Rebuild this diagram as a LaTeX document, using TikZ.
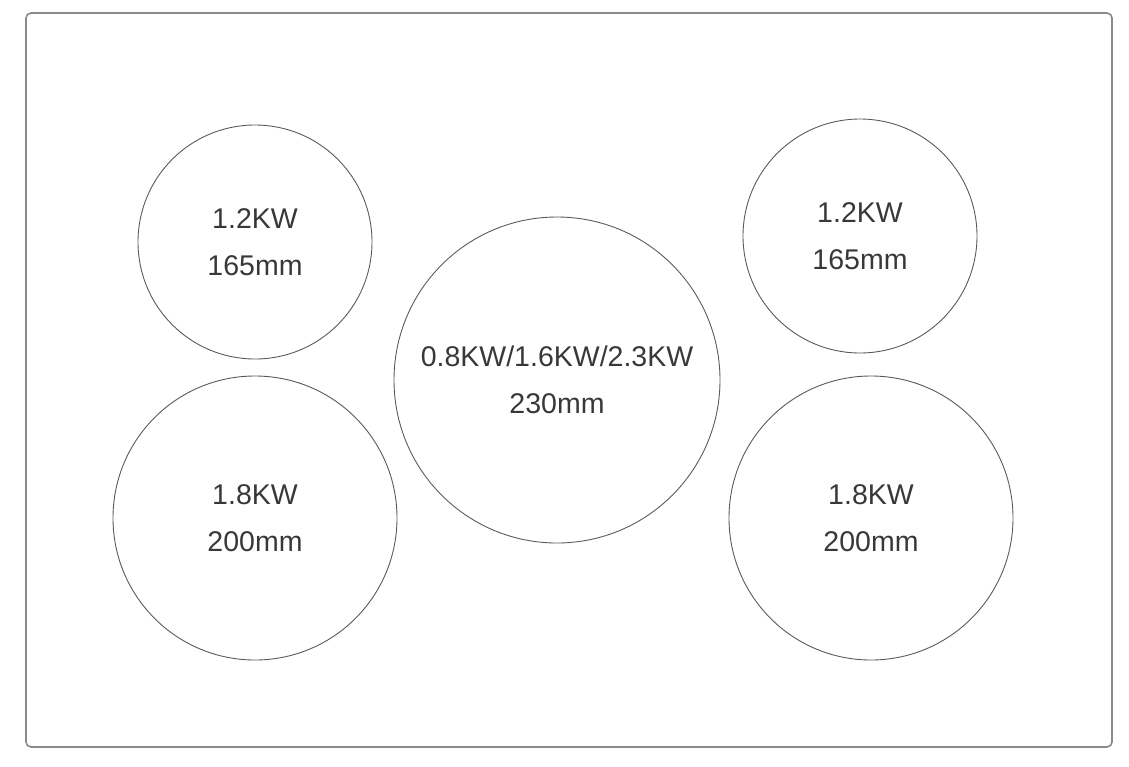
\documentclass[tikz,border=0pt]{standalone}
\usepackage{fontspec}
\setmainfont{Liberation Sans}
\definecolor{rimgray}{HTML}{8A8A8A}
\definecolor{ringgray}{HTML}{5A5A5A}
\definecolor{txtgray}{HTML}{383838}
\tikzset{
  zone/.style={circle, draw=ringgray, line width=0.9pt, align=center,
    text=txtgray, inner sep=0pt, font=\fontsize{28.5}{47.5}\selectfont}
}
\begin{document}
\begin{tikzpicture}[x=1pt,y=-1pt]
      \useasboundingbox (0,0) rectangle (1129,766);
      \draw[rimgray, line width=1.6pt, rounded corners=5pt] (26,13) rectangle (1112,747);
      \draw
        (255,242) node[zone, minimum size=234pt] (tl){1.2KW\\165mm}
        (255,518) node[zone, minimum size=284pt] (bl){1.8KW\\200mm}
        (557,380) node[zone, minimum size=326pt] (mid){0.8KW/1.6KW/2.3KW\\230mm}
        (860,236) node[zone, minimum size=234pt] (tr){1.2KW\\165mm}
        (871,518) node[zone, minimum size=284pt] (br){1.8KW\\200mm};
    \end{tikzpicture}
\end{document}
